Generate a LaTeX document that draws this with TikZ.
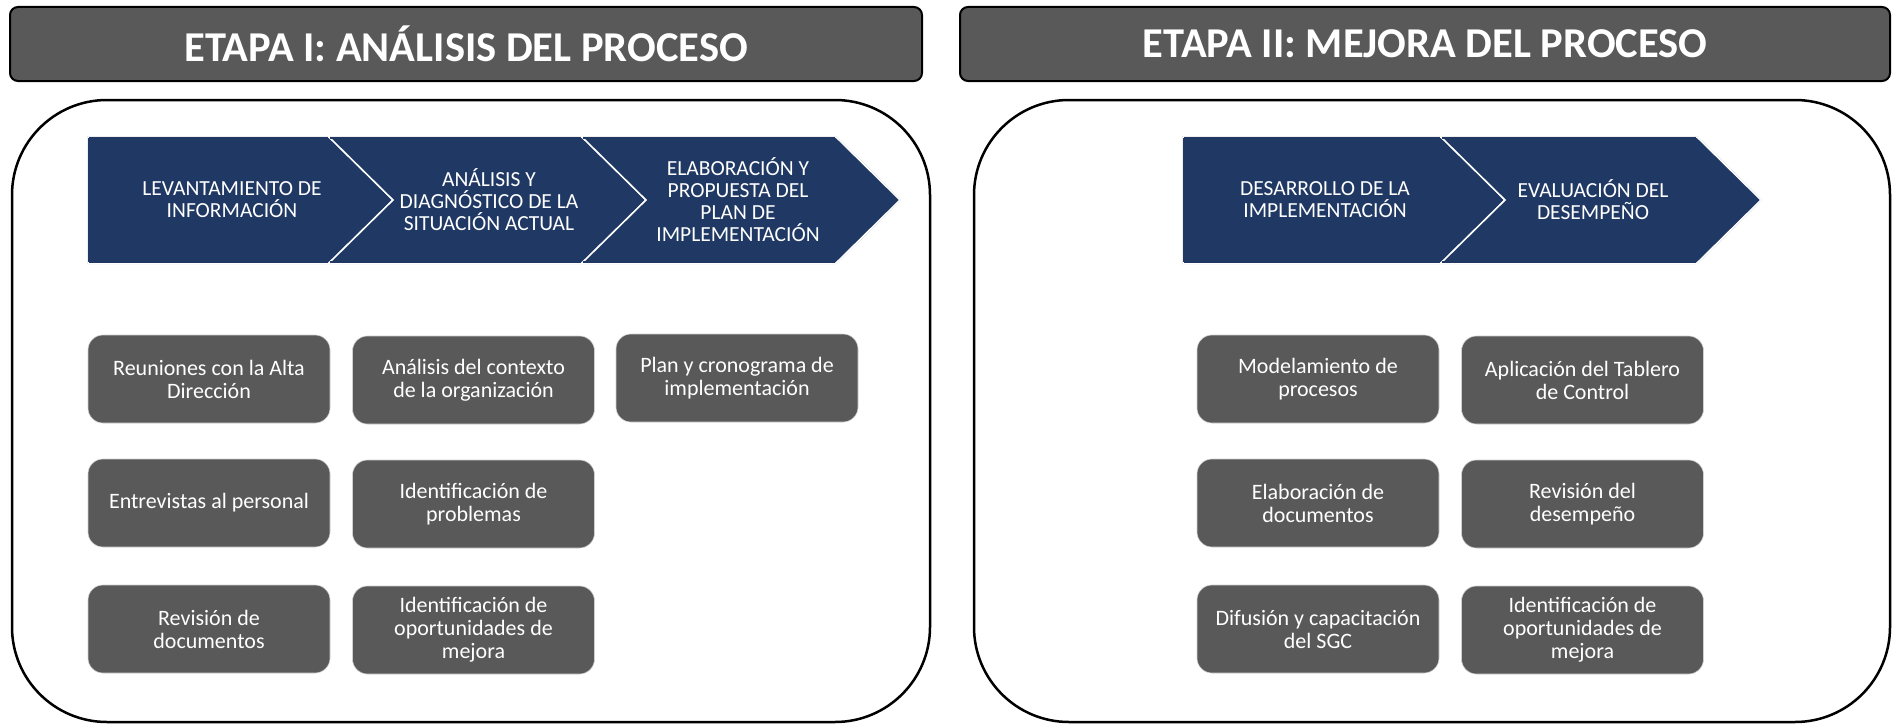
\documentclass[tikz,border=0pt]{standalone}
\usepackage{fontspec}
\setmainfont{Carlito}
\definecolor{boxgray}{HTML}{595959}
\definecolor{navy}{HTML}{203864}
\definecolor{glow}{HTML}{D0D0D0}
\begin{document}
\begin{tikzpicture}[x=1pt,y=-1pt,
  header/.style={draw=black, line width=2pt, fill=boxgray, rounded corners=8pt,
    minimum width=912pt, minimum height=74pt, inner sep=0pt, text=white,
    font=\bfseries\fontsize{42.5}{50}\selectfont},
  frame/.style={draw=black, line width=2.5pt, rounded corners=95pt},
  chev/.style={fill=navy, draw=white, line width=1.5pt},
  chevtxt/.style={text=white, align=center, inner sep=0pt,
    font=\fontsize{21.5}{22}\selectfont},
  task/.style={fill=boxgray, draw=glow, line width=0.6pt, rounded corners=15pt,
    minimum width=242pt, minimum height=88pt, inner sep=2pt, text=white,
    align=center, font=\fontsize{22}{23}\selectfont}
]
\useasboundingbox (0,0) rectangle (1894,725);

% headers
\node[header] (h1) at (466,44) {ETAPA I: ANÁLISIS DEL PROCESO};
\node[header, minimum width=930pt] (h2) at (1425,44) {ETAPA II: MEJORA DEL PROCESO};

% frames
\draw[frame] (12,100) rectangle (930,722);
\draw[frame] (974,100) rectangle (1890,722);

% chevrons stage I
\draw[glow, line width=2pt] (88,137) -- (836,137) -- (900,200) -- (836,263) -- (88,263) -- cycle;
\draw[chev] (88,137) -- (329,137) -- (393,200) -- (329,263) -- (88,263) -- cycle;
\draw[chev] (329,137) -- (582,137) -- (646,200) -- (582,263) -- (329,263) -- (393,200) -- cycle;
\draw[chev] (582,137) -- (836,137) -- (900,200) -- (836,263) -- (582,263) -- (646,200) -- cycle;
\draw[navy, line width=1.6pt] (89,137.8) -- (89,262.2);
\draw[navy, line width=1.6pt] (89,137.8) -- (328,137.8) (89,262.2) -- (328,262.2)
  (330,137.8) -- (581,137.8) (330,262.2) -- (581,262.2)
  (583,137.8) -- (835,137.8) (583,262.2) -- (835,262.2);
\node[chevtxt] (c1) at (232,200) {LEVANTAMIENTO DE\\INFORMACIÓN};
\node[chevtxt] (c2) at (489,200) {ANÁLISIS Y\\DIAGNÓSTICO DE LA\\SITUACIÓN ACTUAL};
\node[chevtxt] (c3) at (738,200) {ELABORACIÓN Y\\PROPUESTA DEL\\PLAN DE\\IMPLEMENTACIÓN};

% chevrons stage II
\draw[glow, line width=2pt] (1183,137) -- (1697,137) -- (1761,200) -- (1697,263) -- (1183,263) -- cycle;
\draw[chev] (1183,137) -- (1441,137) -- (1505,200) -- (1441,263) -- (1183,263) -- cycle;
\draw[chev] (1441,137) -- (1697,137) -- (1761,200) -- (1697,263) -- (1441,263) -- (1505,200) -- cycle;
\draw[navy, line width=1.6pt] (1184,137.8) -- (1184,262.2)
  (1184,137.8) -- (1440,137.8) (1184,262.2) -- (1440,262.2)
  (1442,137.8) -- (1696,137.8) (1442,262.2) -- (1696,262.2);
\node[chevtxt] (d1) at (1325,200) {DESARROLLO DE LA\\IMPLEMENTACIÓN};
\node[chevtxt] (d2) at (1593,200) {EVALUACIÓN DEL\\DESEMPEÑO};

% tasks stage I
\node[task] (a11) at (209,379) {Reuniones con la Alta\\Dirección};
\node[task] (a21) at (209,503) {Entrevistas al personal};
\node[task] (a31) at (209,629) {Revisión de\\documentos};
\node[task] (a12) at (473.5,380) {Análisis del contexto\\de la organización};
\node[task] (a22) at (473.5,504) {Identificación de\\problemas};
\node[task] (a32) at (473.5,630) {Identificación de\\oportunidades de\\mejora};
\node[task] (a13) at (737,378) {Plan y cronograma de\\implementación};

% tasks stage II
\node[task] (b11) at (1318,379) {Modelamiento de\\procesos};
\node[task] (b21) at (1318,503) {Elaboración de\\documentos};
\node[task] (b31) at (1318,629) {Difusión y capacitación\\del SGC};
\node[task] (b12) at (1582.5,380) {Aplicación del Tablero\\de Control};
\node[task] (b22) at (1582.5,504) {Revisión del\\desempeño};
\node[task] (b32) at (1582.5,630) {Identificación de\\oportunidades de\\mejora};
\end{tikzpicture}
\end{document}
